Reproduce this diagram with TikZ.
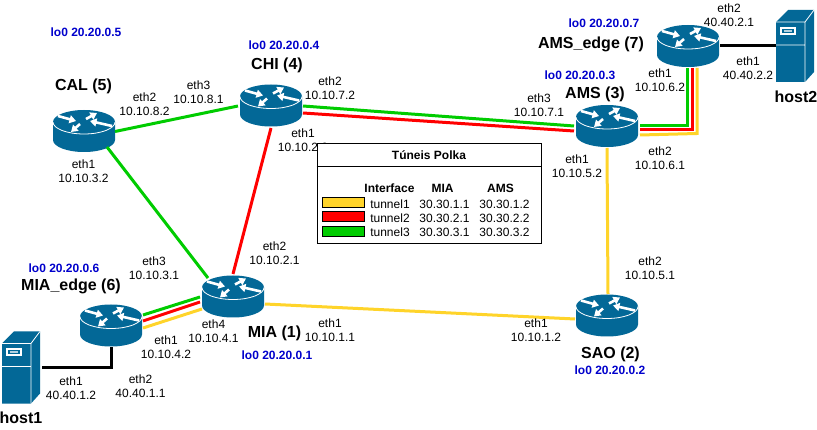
\documentclass[tikz,border=0pt]{standalone}
\usepackage{fontspec}
\setmainfont{Liberation Sans}
\usetikzlibrary{calc,arrows.meta}
\definecolor{ciscoblue}{HTML}{036897}
\definecolor{lgreen}{HTML}{00CC00}
\definecolor{lred}{HTML}{FF0000}
\definecolor{lyellow}{HTML}{FFD42A}
\definecolor{loblue}{HTML}{0000CC}
\tikzset{
  routerbox/.style={minimum width=62pt,minimum height=42pt,inner sep=0pt,outer sep=0pt},
  serverbox/.style={minimum width=38pt,minimum height=72pt,inner sep=0pt,outer sep=0pt},
  wire/.style={line width=3pt,line join=miter},
  gwire/.style={wire,draw=lgreen},
  rwire/.style={wire,draw=lred},
  ywire/.style={wire,draw=lyellow},
  kwire/.style={wire,draw=black},
  iflabel/.style={align=center,font=\fontsize{12}{14}\selectfont,inner sep=0pt},
  title/.style={font=\fontsize{16}{18}\selectfont\bfseries,inner sep=0pt},
  lolabel/.style={font=\fontsize{12}{14}\selectfont\bfseries,text=loblue,inner sep=0pt},
  cell/.style={font=\fontsize{12}{14}\selectfont,inner sep=0pt},
  headcell/.style={font=\fontsize{12}{14}\selectfont\bfseries,inner sep=0pt},
  swatch/.style={draw=black,line width=1pt,minimum width=42pt,minimum height=10pt,inner sep=0pt},
  iconarrow/.style={draw=white,line width=2.6pt,-{Triangle[length=6.5pt,width=8pt]}}
}
\newcommand{\routericon}[4]{%
  \node[routerbox] (#1) at (#2,#3) {};
  \begin{scope}[shift={(#1.center)}]
    \fill[ciscoblue] (-31,-9) -- (-31,9) arc[start angle=180,end angle=0,x radius=31,y radius=12] -- (31,-9) arc[start angle=0,end angle=-180,x radius=31,y radius=12] -- cycle;
    \draw[white,line width=.8pt] (-31,-9) arc[start angle=180,end angle=0,x radius=31,y radius=12];
    \draw[iconarrow] (-26,-15) -- (-8,-10);
    \draw[iconarrow] (2,-12) -- (13,-18);
    \draw[iconarrow] (28,-5) -- (6,-10);
    \draw[iconarrow] (-4,-7) -- (-13,1);
  \end{scope}
}
\newcommand{\servericon}[3]{%
  \node[serverbox] (#1) at (#2,#3) {};
  \begin{scope}[shift={(#1.center)}]
    \fill[ciscoblue] (-19,-24) -- (-7,-36) -- (19,-36) -- (19,26) -- (10,36) -- (-19,36) -- cycle;
    \draw[white,line width=.8pt] (-19,-24) -- (10,-24) -- (19,-36) (10,-24) -- (10,36) (-19,-1) -- (10,-1);
    \fill[white] (-15,-19) rectangle (1,-11);
    \fill[ciscoblue] (-13,-17) rectangle (-1,-13);
    \fill[white!70!ciscoblue] (-11,-16) rectangle (-3,-14);
  \end{scope}
}
\newcommand{\iflbl}[5]{\node[iflabel] (#1) at (#2,#3) {#4\\#5};}
\begin{document}
\begin{tikzpicture}[x=1pt,y=-1pt]
\useasboundingbox (0,0) rectangle (817,430);
\fill[white] (0,0) rectangle (817,430);

\routericon{cal}{84}{131}{}
\routericon{chi}{271}{105.5}{}
\routericon{ams}{607}{126}{}
\routericon{eseven}{688}{46}{}
\routericon{mia}{233}{296.5}{}
\routericon{esix}{111}{325.5}{}
\routericon{sao}{607}{315.5}{}
\servericon{htwo}{795}{46}
\servericon{hone}{21}{367.5}

% connectors
\draw[gwire] ($(cal)+(31,.5)$) -- ($(chi)+(-33,.5)$);
\draw[gwire] ($(cal)+(23,16)$) -- ($(mia)+(-25,-18.5)$);
\draw[rwire] ($(chi)+(0,22.5)$) -- ($(mia)+(0,-22.5)$);
\draw[gwire] ($(chi)+(32,.5)$) -- ($(ams)+(-33,0)$);
\draw[rwire] ($(chi)+(32,7.5)$) -- ($(ams)+(-33,5)$);
\draw[ywire] ($(ams)+(0,22)$) -- ($(sao)+(1,-21.5)$);
\draw[ywire] ($(mia)+(32,7.5)$) -- ($(sao)+(-32,3.5)$);
\draw[gwire] ($(esix)+(32,-10.5)$) -- ($(mia)+(-33,.5)$);
\draw[rwire] ($(esix)+(32,-4.5)$) -- ($(mia)+(-33,5.5)$);
\draw[ywire] ($(esix)+(32,2.5)$) -- ($(mia)+(-31,12.5)$);
\draw[ywire] ($(ams)+(33,9)$) -- ($(eseven)+(9,87.5)$) -- ($(eseven)+(9,22)$);
\draw[rwire] ($(ams)+(33,4)$) -| ($(eseven)+(4,22)$);
\draw[gwire] ($(ams)+(33,0)$) -| ($(eseven)+(-1,22)$);
\draw[kwire] ($(eseven)+(32,0)$) -- ($(htwo)+(-19,0)$);
\draw[kwire] ($(esix)+(0,21.5)$) |- ($(hone)+(21,0)$);

% interface labels
\iflbl{la}{198.5}{92}{eth3}{10.10.8.1}
\iflbl{lb}{144.5}{104}{eth2}{10.10.8.2}
\iflbl{lc}{83.5}{171}{eth1}{10.10.3.2}
\iflbl{ld}{330}{88}{eth2}{10.10.7.2}
\iflbl{le}{303}{140}{eth1}{10.10.2.2}
\iflbl{lf}{539}{105}{eth3}{10.10.7.1}
\iflbl{lg}{660}{80.5}{eth1}{10.10.6.2}
\iflbl{lh}{729}{15}{eth2}{40.40.2.1}
\iflbl{li}{748}{68}{eth1}{40.40.2.2}
\iflbl{lj}{660}{158}{eth2}{10.10.6.1}
\iflbl{lk}{577}{166}{eth1}{10.10.5.2}
\iflbl{ll}{650}{268}{eth2}{10.10.5.1}
\iflbl{lm}{536}{330}{eth1}{10.10.1.2}
\iflbl{ln}{330}{330}{eth1}{10.10.1.1}
\iflbl{lo}{274.5}{253}{eth2}{10.10.2.1}
\iflbl{lp}{154}{268}{eth3}{10.10.3.1}
\iflbl{lq}{213.5}{331}{eth4}{10.10.4.1}
\iflbl{lr}{166}{347}{eth1}{10.10.4.2}
\iflbl{ls}{71}{388}{eth1}{40.40.1.2}
\iflbl{lt}{140.5}{386}{eth2}{40.40.1.1}

% titles
\node[title] (tcal) at (83.5,86) {CAL (5)};
\node[title] (tchi) at (277,65) {CHI (4)};
\node[title] (tams) at (595,94) {AMS (3)};
\node[title] (tesev) at (591,44) {AMS\_edge (7)};
\node[title] (tesix) at (71,286) {MIA\_edge (6)};
\node[title] (tmia) at (274.5,333) {MIA (1)};
\node[title] (tsao) at (610.5,354) {SAO (2)};
\node[title] (thtwo) at (796,97) {host2};
\node[title] (thone) at (21,418) {host1};

% loopbacks
\node[lolabel] (lofive) at (86,32) {lo0 20.20.0.5};
\node[lolabel] (lofour) at (284,45) {lo0 20.20.0.4};
\node[lolabel] (lothree) at (580,75) {lo0 20.20.0.3};
\node[lolabel] (loseven) at (604,23) {lo0 20.20.0.7};
\node[lolabel] (losix) at (64,268) {lo0 20.20.0.6};
\node[lolabel] (loone) at (277,355) {lo0 20.20.0.1};
\node[lolabel] (lotwo) at (610,370) {lo0 20.20.0.2};

% legend table
\node[draw=black,line width=1pt,fill=white,minimum width=224pt,minimum height=100pt,inner sep=0pt] (tbl) at (429,194) {};
\draw[line width=1pt] ($(tbl.north west)+(0,23)$) -- ($(tbl.north east)+(0,23)$);
\node[headcell] (ttl) at (429,155) {Túneis Polka};
\node[headcell] (hi) at (389.5,188) {Interface};
\node[headcell] (hm) at (442.5,188) {MIA};
\node[headcell] (ha) at (500.5,188) {AMS};
\node[swatch,fill=lyellow] (sa) at (343,203) {};
\node[swatch,fill=lred] (sb) at (343,217) {};
\node[swatch,fill=lgreen] (sc) at (343,232) {};
\node[cell] (ca) at (390,204) {tunnel1};
\node[cell] (cb) at (390,218) {tunnel2};
\node[cell] (cc) at (390,232) {tunnel3};
\node[cell] (ma) at (444.5,204) {30.30.1.1};
\node[cell] (mb) at (444.5,218) {30.30.2.1};
\node[cell] (mc) at (444.5,232) {30.30.3.1};
\node[cell] (aa) at (504.5,204) {30.30.1.2};
\node[cell] (ab) at (504.5,218) {30.30.2.2};
\node[cell] (ac) at (504.5,232) {30.30.3.2};
\end{tikzpicture}
\end{document}
